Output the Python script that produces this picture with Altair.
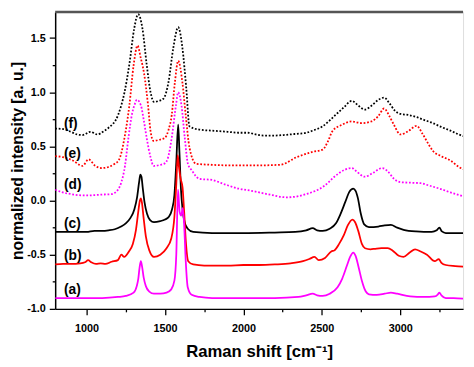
import altair as alt
import pandas as pd

# ---- data ----
a_x = [800, 900, 1000, 1100, 1200, 1250, 1300, 1320, 1330, 1338, 1346, 1354, 1364, 1378, 1400, 1430, 1470, 1510,
       1540, 1560, 1572, 1583, 1593, 1603, 1613, 1622, 1632, 1645, 1670, 1720, 1800, 2000, 2200, 2350, 2400,
       2442, 2470, 2505, 2550, 2600, 2630, 2660, 2680, 2700, 2715, 2735, 2755, 2780, 2800, 2850, 2900, 2940,
       2980, 3063, 3150, 3220, 3240, 3249, 3262, 3290, 3340, 3400]
a_y = [-0.90, -0.90, -0.90, -0.90, -0.89, -0.88, -0.85, -0.79, -0.72, -0.62, -0.56, -0.61, -0.71, -0.79, -0.84,
       -0.86, -0.86, -0.85, -0.82, -0.74, -0.50, 0.10, -0.10, -0.14, -0.07, -0.22, -0.55, -0.80, -0.87, -0.89,
       -0.90, -0.90, -0.90, -0.89, -0.875, -0.86, -0.875, -0.88, -0.86, -0.80, -0.72, -0.60, -0.52, -0.48,
       -0.51, -0.62, -0.74, -0.84, -0.865, -0.87, -0.86, -0.85, -0.86, -0.885, -0.89, -0.885, -0.865, -0.85,
       -0.875, -0.90, -0.90, -0.905]

b_x = [800, 850, 900, 960, 990, 1010, 1030, 1060, 1090, 1120, 1160, 1200, 1222, 1240, 1270, 1295, 1315, 1330,
       1340, 1346, 1353, 1363, 1378, 1400, 1430, 1470, 1510, 1540, 1560, 1572, 1581, 1590, 1600, 1612, 1622,
       1634, 1648, 1680, 1750, 1900, 2000, 2100, 2200, 2300, 2380, 2420, 2453, 2480, 2520, 2560, 2580, 2610,
       2640, 2665, 2695, 2712, 2732, 2755, 2775, 2810, 2840, 2880, 2920, 2950, 2990, 3020, 3060, 3094, 3130,
       3170, 3220, 3245, 3262, 3290, 3350, 3400]
b_y = [-0.59, -0.585, -0.585, -0.58, -0.57, -0.55, -0.57, -0.585, -0.58, -0.585, -0.565, -0.55, -0.50, -0.52,
       -0.47, -0.40, -0.27, -0.10, 0.00, 0.02, -0.02, -0.15, -0.33, -0.46, -0.52, -0.50, -0.44, -0.35, -0.15,
       0.15, 0.42, 0.30, 0.20, 0.12, -0.10, -0.40, -0.56, -0.59, -0.60, -0.60, -0.595, -0.595, -0.59, -0.58,
       -0.56, -0.54, -0.52, -0.55, -0.53, -0.47, -0.46, -0.40, -0.32, -0.23, -0.175, -0.20, -0.28, -0.40,
       -0.44, -0.45, -0.445, -0.44, -0.44, -0.46, -0.51, -0.52, -0.48, -0.45, -0.47, -0.50, -0.56, -0.54,
       -0.575, -0.595, -0.605, -0.61]

c_x = [800, 900, 1000, 1050, 1100, 1140, 1180, 1220, 1250, 1280, 1305, 1322, 1335, 1343, 1350, 1358, 1370, 1385,
       1405, 1430, 1470, 1500, 1525, 1545, 1560, 1572, 1584, 1592, 1602, 1612, 1625, 1645, 1680, 1800, 2000,
       2200, 2330, 2400, 2442, 2470, 2505, 2550, 2590, 2620, 2650, 2675, 2700, 2715, 2730, 2748, 2770, 2800,
       2860, 2900, 2940, 2980, 3021, 3100, 3200, 3232, 3249, 3265, 3290, 3400]
c_y = [-0.29, -0.29, -0.29, -0.28, -0.28, -0.275, -0.265, -0.24, -0.21, -0.16, -0.08, 0.03, 0.17, 0.24, 0.22,
       0.12, -0.02, -0.12, -0.18, -0.20, -0.19, -0.175, -0.15, -0.08, 0.05, 0.35, 0.70, 0.45, 0.10, -0.08,
       -0.20, -0.26, -0.29, -0.30, -0.30, -0.295, -0.29, -0.275, -0.255, -0.275, -0.28, -0.26, -0.21, -0.12,
       -0.01, 0.08, 0.11, 0.09, 0.02, -0.12, -0.22, -0.245, -0.24, -0.23, -0.225, -0.25, -0.27, -0.285,
       -0.29, -0.275, -0.25, -0.285, -0.30, -0.30]

d_x = [800, 850, 900, 950, 1000, 1050, 1100, 1160, 1200, 1222, 1245, 1267, 1290, 1305, 1321, 1346, 1365, 1383,
       1408, 1427, 1470, 1500, 1520, 1543, 1570, 1584, 1605, 1626, 1646, 1670, 1720, 1800, 1880, 1970, 2050,
       2150, 2277, 2350, 2400, 2460, 2520, 2580, 2640, 2691, 2720, 2773, 2820, 2885, 2920, 2960, 3001, 3060,
       3130, 3180, 3250, 3320, 3400]
d_y = [0.10, 0.075, 0.06, 0.05, 0.047, 0.05, 0.055, 0.06, 0.10, 0.17, 0.32, 0.58, 0.80, 0.88, 0.93, 0.88, 0.74,
       0.58, 0.40, 0.32, 0.33, 0.345, 0.40, 0.58, 0.88, 1.00, 0.88, 0.58, 0.34, 0.28, 0.20, 0.19, 0.15, 0.11,
       0.09, 0.06, 0.03, 0.04, 0.06, 0.09, 0.14, 0.22, 0.28, 0.30, 0.27, 0.22, 0.25, 0.30, 0.27, 0.20, 0.17,
       0.165, 0.16, 0.14, 0.11, 0.075, 0.04]

e_x = [800, 850, 912, 974, 1013, 1056, 1098, 1140, 1180, 1205, 1242, 1273, 1300, 1325, 1345, 1367, 1392, 1408,
       1427, 1460, 1500, 1522, 1543, 1563, 1584, 1611, 1632, 1656, 1698, 1800, 1900, 2000, 2100, 2235, 2339,
       2442, 2505, 2540, 2567, 2629, 2691, 2753, 2815, 2860, 2897, 2930, 2959, 3001, 3050, 3104, 3140, 3180,
       3207, 3260, 3320, 3373, 3400]
e_y = [0.41, 0.40, 0.37, 0.32, 0.38, 0.32, 0.30, 0.31, 0.34, 0.37, 0.58, 0.88, 1.25, 1.43, 1.32, 1.17, 0.88,
       0.64, 0.55, 0.56, 0.58, 0.65, 0.79, 1.09, 1.29, 1.09, 0.79, 0.49, 0.34, 0.33, 0.325, 0.325, 0.325,
       0.33, 0.40, 0.45, 0.47, 0.55, 0.64, 0.70, 0.73, 0.715, 0.73, 0.78, 0.85, 0.78, 0.70, 0.61, 0.64, 0.69,
       0.62, 0.52, 0.46, 0.41, 0.37, 0.31, 0.29]

f_x = [800, 850, 900, 940, 974, 1025, 1067, 1110, 1139, 1201, 1242, 1273, 1304, 1329, 1356, 1383, 1408, 1430,
       1460, 1490, 1522, 1553, 1584, 1611, 1636, 1656, 1718, 1800, 1900, 1966, 2028, 2080, 2132, 2200, 2256,
       2330, 2401, 2450, 2505, 2550, 2587, 2640, 2691, 2730, 2773, 2820, 2860, 2897, 2930, 2965, 3001, 3050,
       3104, 3150, 3207, 3260, 3320, 3373, 3400]
f_y = [0.665, 0.66, 0.635, 0.61, 0.605, 0.635, 0.61, 0.64, 0.67, 0.79, 1.00, 1.26, 1.59, 1.72, 1.59, 1.26,
       1.00, 0.91, 0.92, 0.94, 1.09, 1.41, 1.60, 1.41, 1.03, 0.685, 0.655, 0.645, 0.635, 0.626, 0.626, 0.61,
       0.60, 0.60, 0.605, 0.615, 0.626, 0.65, 0.685, 0.74, 0.79, 0.86, 0.92, 0.88, 0.84, 0.88, 0.93, 0.95,
       0.90, 0.83, 0.80, 0.79, 0.77, 0.745, 0.715, 0.68, 0.645, 0.61, 0.595]

label_text = ["(f)", "(e)", "(d)", "(c)", "(b)", "(a)"]
label_x = [856, 856, 856, 856, 856, 856]
label_y = [0.71, 0.43, 0.14, -0.22, -0.51, -0.83]

x_ticks = [1000, 1250, 1500, 1750, 2000, 2250, 2500, 2750, 3000, 3250]
y_ticks = [-1.0, -0.75, -0.5, -0.25, 0.0, 0.25, 0.5, 0.75, 1.0, 1.25, 1.5]

FONT = "Liberation Sans"
MAGENTA = "#ff00ff"
RED = "#ff0000"
BLACK = "#000000"

W, H = 415, 302

xscale = alt.Scale(domain=[800, 3400], nice=False, zero=False)
yscale = alt.Scale(domain=[-1.0, 1.74], nice=False, zero=False)

xaxis = alt.Axis(
    values=x_ticks,
    labelExpr="datum.value % 500 == 0 ? format(datum.value, 'd') : ''",
    tickSize={"condition": {"test": "datum.value % 500 == 0", "value": 6}, "value": 3},
    title="Raman shift [cm⁻¹]", titleFont=FONT, titleFontSize=17, titleFontWeight="bold",
    titlePadding=10, labelFont=FONT, labelFontSize=11, labelFontWeight="bold", labelPadding=8,
    domainColor="black", domainWidth=1.5, tickColor="black", tickWidth=1.3, grid=False,
    labelColor="black", titleColor="black",
)
yaxis = alt.Axis(
    values=y_ticks,
    labelExpr="round(datum.value*4) % 2 == 0 ? replace(format(datum.value, '.1f'), '\u2212', '-') : ''",
    tickSize={"condition": {"test": "round(datum.value*4) % 2 == 0", "value": 6}, "value": 3},
    title="normalized intensity [a. u.]", titleFont=FONT, titleFontSize=16, titleFontWeight="bold",
    titlePadding=1, labelFont=FONT, labelFontSize=11, labelFontWeight="bold", labelPadding=4,
    domainColor="black", domainWidth=1.5, tickColor="black", tickWidth=1.3, grid=False,
    labelColor="black", titleColor="black",
)

X = alt.X("x:Q", scale=xscale, axis=xaxis)
Y = alt.Y("y:Q", scale=yscale, axis=yaxis)


def series(xs, ys, color, dotted):
    df = pd.DataFrame({"x": xs, "y": ys})
    kw = dict(color=color, interpolate="monotone", clip=True)
    if dotted:
        kw.update(strokeWidth=1.8, strokeDash=[1.8, 1.8], strokeCap="butt")
    else:
        kw.update(strokeWidth=1.8)
    return alt.Chart(df).mark_line(**kw).encode(x=X, y=Y)


layers = [
    series(f_x, f_y, BLACK, True),
    series(e_x, e_y, RED, True),
    series(d_x, d_y, MAGENTA, True),
    series(c_x, c_y, BLACK, False),
    series(b_x, b_y, RED, False),
    series(a_x, a_y, MAGENTA, False),
]

labels = alt.Chart(pd.DataFrame({"t": label_text, "x": label_x, "y": label_y})).mark_text(
    align="left", baseline="middle", font=FONT, fontSize=14, fontWeight="bold", color="black"
).encode(x=X, y=Y, text="t:N")

topbar = alt.Chart(pd.DataFrame({"v": [0]})).mark_rule(color="#555555", strokeWidth=2.5).encode(
    x=alt.value(0), x2=alt.value(W), y=alt.value(0)
)

chart = alt.layer(*layers, labels, topbar).properties(
    width=W, height=H,
    autosize=alt.AutoSizeParams(type="none"),
    padding={"left": 48, "top": 1, "right": 3, "bottom": 56},
).configure_view(stroke="#666666", strokeWidth=1).configure(background="white")

chart.save("out.html", embed_options={"renderer": "svg", "actions": False})
